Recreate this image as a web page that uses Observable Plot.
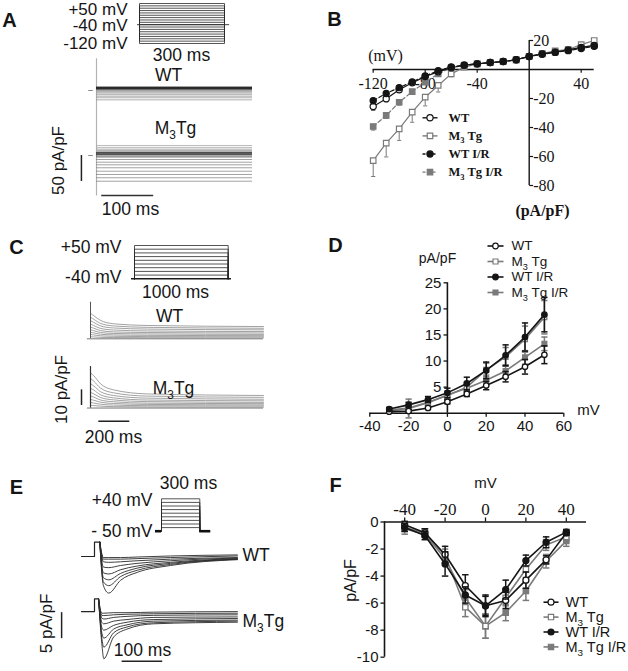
<!DOCTYPE html>
<html><head><meta charset="utf-8">
<script src="https://cdn.jsdelivr.net/npm/d3@7"></script>
<script src="https://cdn.jsdelivr.net/npm/@observablehq/plot@0.6"></script>
<style>
html,body{margin:0;padding:0;background:#fff}
#fig{position:relative;width:628px;height:671px;overflow:hidden;background:#fff}
#fig svg{position:absolute;left:0;top:0}
</style></head><body><div id="fig"></div>
<script>
// ================= DATA =================
// Panel A – step protocol (mV) and representative steady currents (pA/pF)
const protoA_levels = [50,40,30,20,10,0,-10,-20,-30,-40,-50,-60,-70,-80,-90,-100,-110,-120];
const protoA_hold = -40;
const protoA_dur = 300;
const traceA_WT = [6.5,6,5.5,5,4.5,4,3.5,3,2,1,0,-1.5,-3,-5,-8,-11,-14,-18];
const traceA_M3 = [19,15,12,9.6,7.5,5.8,4,2,-1,-3.3,-7.7,-12.9,-17.9,-23.6,-30.2,-36.5,-42.8,-49.4];

// Panel B – I/V (mV, pA/pF)
const ivB_mV = [-120,-110,-100,-90,-80,-70,-60,-50,-40,-30,-20,-10,0,10,20,30,40,50];
const ivB_WT   = [-25.5,-20.2,-14.0,-9.2,-4.8,-1.6,1.2,3.0,3.9,4.8,5.5,6.7,9.0,10.8,12.0,13.5,15.2,16.6];
const ivB_WT_err = [2.5,2,1.5,1.2,1,0.8,0.6,0.6,0.6,0.6,0.6,0.6,0.6,0.6,0.6,0.6,0.6,0.6];
const ivB_M3   = [-62.8,-50.8,-40.9,-29.4,-19.1,-11.0,-3.0,1.6,3.9,4.8,5.5,6.7,9.0,11.0,12.8,13.8,17.2,20.0];
const ivB_M3_err = [11,9.5,8,7,6,4.5,2,1,0.8,0.6,0.6,0.6,0.6,0.6,0.6,0.8,0.8,0.8];
const ivB_WTIR = [-21.5,-16.5,-12.5,-8.5,-4.5,-0.8,1.8,3.0,3.9,4.8,5.5,6.7,9.0,10.5,11.8,13.0,14.5,16.0];
const ivB_WTIR_err = [2,1.5,1.2,1,0.8,0.6,0.6,0.6,0.6,0.6,0.6,0.6,0.6,0.6,0.6,0.6,0.6,0.6];
const ivB_M3IR = [-39.3,-31.7,-22.6,-15.2,-8.8,-3.0,1.2,3.0,3.9,4.8,5.5,6.7,9.0,10.8,12.0,13.5,15.2,16.6];
const ivB_M3IR_err = [2.5,2,2,1.5,1.2,1,0.8,0.6,0.6,0.6,0.6,0.6,0.6,0.6,0.6,0.6,0.6,0.6];
const ivB_xticks = [-120,-80,-40,40];
const ivB_yticks = [20,-20,-40,-60,-80];

// Panel C – protocol and outward current traces (values at sample times)
const protoC_levels = [50,40,30,20,10,0,-10,-20,-30];
const protoC_hold = -40;
const protoC_dur = 1000;
const traceC_t = [4,20,65,148,366,1116];
const traceC_WT = [
  [16.0,14.8,11.7,9.6,8.5,7.8],[13.5,12.5,9.8,8.2,7.3,6.7],[11.3,10.5,8.2,6.9,6.2,5.7],
  [9.2,8.5,6.6,5.6,5.0,4.6],[7.3,6.8,5.2,4.4,4.0,3.7],[5.6,5.2,4.0,3.4,3.1,2.8],
  [4.1,3.8,2.9,2.5,2.2,2.0],[2.7,2.5,1.9,1.6,1.4,1.3],[1.3,1.2,0.9,0.8,0.7,0.6]];
const traceC_M3 = [
  [22.0,20.7,15.4,11.6,9.0,8.0],[18.5,17.2,12.7,9.7,7.6,6.8],[15.3,14.2,10.4,8.0,6.3,5.6],
  [12.4,11.5,8.4,6.5,5.1,4.6],[9.8,9.1,6.7,5.2,4.1,3.6],[7.5,7.0,5.1,4.0,3.1,2.8],
  [5.4,5.0,3.7,2.9,2.3,2.0],[3.5,3.2,2.4,1.9,1.5,1.3],[1.7,1.6,1.2,0.9,0.7,0.6]];
const traceC_spike = {WT: 23.3, M3: 26.4};

// Panel D – I/V
const ivD_mV = [-30,-20,-10,0,10,20,30,40,50];
const ivD_WT   = [0.3,0.4,1.0,2.2,3.7,5.3,7.0,8.9,11.2];
const ivD_WT_err = [0.2,0.3,0.3,0.4,0.5,0.8,1.0,1.4,1.7];
const ivD_M3   = [0.6,1.0,2.1,3.4,5.0,8.3,10.8,14.2,18.4];
const ivD_M3_err = [0.3,0.5,0.6,0.8,1.0,1.3,1.8,2.5,3.2];
const ivD_WTIR = [0.8,1.6,2.6,3.9,5.7,8.2,11.1,14.6,18.9];
const ivD_WTIR_err = [0.3,0.5,0.6,0.9,1.2,1.6,2.0,2.7,3.3];
const ivD_M3IR = [0.5,0.9,2.0,3.5,4.8,6.3,8.1,10.7,13.3];
const ivD_M3IR_err = [0.3,1.8,0.5,0.7,0.8,1.0,1.2,1.3,1.3];
const ivD_xticks = [-40,-20,0,20,40,60];
const ivD_yticks = [5,10,15,20,25];

// Panel E – protocol and inward current traces
const protoE_levels = [40,30,20,10,0,-10,-20,-30,-40];
const protoE_hold = -50;
const protoE_dur = 300;
const traceE_WT_t = [22,35,64,105,187,352];
const traceE_WT = [
  [-5.5,-6.9,-4.5,-3.0,-1.7,-0.6],[-4.8,-5.5,-3.8,-2.6,-1.5,-0.5],[-4.0,-4.4,-3.2,-2.2,-1.3,-0.5],
  [-3.1,-3.3,-2.5,-1.8,-1.1,-0.4],[-2.0,-2.1,-1.7,-1.3,-0.8,-0.3],[-1.0,-1.1,-1.0,-0.8,-0.5,-0.2],
  [-0.5,-0.5,-0.5,-0.4,-0.2,0.1],[-0.2,-0.2,-0.2,-0.1,0.1,0.3]];
const traceE_M3_t = [18,23,47,80,146,352];
const traceE_M3 = [
  [-6.0,-8.9,-4.8,-3.3,-2.3,-2.0],[-5.0,-6.7,-4.0,-2.9,-2.1,-1.8],[-4.0,-5.0,-3.3,-2.5,-1.8,-1.6],
  [-3.0,-3.5,-2.6,-2.0,-1.5,-1.3],[-2.0,-2.3,-1.8,-1.5,-1.1,-1.0],[-1.2,-1.4,-1.1,-0.9,-0.7,-0.6],
  [-0.7,-0.75,-0.6,-0.5,-0.4,-0.3],[-0.3,-0.3,-0.2,-0.2,-0.1,0.0]];
const traceE_spike = {WT: 2.7, M3: 2.4};

// Panel F – I/V
const ivF_mV = [-40,-30,-20,-10,0,10,20,30,40];
const ivF_WT   = [-0.2,-0.8,-2.4,-4.7,-6.2,-5.8,-4.3,-2.8,-0.8];
const ivF_WT_err = [0.25,0.3,0.6,0.8,0.7,0.6,0.6,0.3,0.2];
const ivF_M3   = [-0.4,-0.8,-2.5,-6.3,-7.7,-5.6,-3.5,-1.7,-1.1];
const ivF_M3_err = [0.3,0.3,0.5,0.7,0.9,0.6,0.6,0.4,0.3];
const ivF_WTIR = [-0.4,-1.0,-3.1,-5.4,-6.2,-5.0,-2.85,-1.5,-0.75];
const ivF_WTIR_err = [0.3,0.3,0.9,0.6,0.8,0.7,0.4,0.4,0.2];
const ivF_M3IR = [-0.5,-0.9,-2.7,-5.6,-7.7,-6.7,-5.1,-2.9,-1.4];
const ivF_M3IR_err = [0.4,0.4,0.5,0.6,0.9,0.6,0.7,0.5,0.4];
const ivF_xticks = [-40,-20,0,20,40];
const ivF_yticks = [0,-2,-4,-6,-8,-10];

const seriesNames = ["WT","M₃ Tg","WT I/R","M₃ Tg I/R"];

// ================= STYLE / LAYOUT =================
const fig = document.getElementById("fig");
const SANS = "'Liberation Sans', Arial, Helvetica, sans-serif";
const SERIF = "'Liberation Serif', 'Times New Roman', serif";
const BLACK = "#151515", GRAY = "#7a7a7a";
const STY = [
  {name: seriesNames[0], symbol: "circle", color: BLACK, open: true,  dash: null},
  {name: seriesNames[1], symbol: "square", color: GRAY,  open: true,  dash: null},
  {name: seriesNames[2], symbol: "circle", color: BLACK, open: false, dash: "4,2.5"},
  {name: seriesNames[3], symbol: "square", color: GRAY,  open: false, dash: "4,2.5"}
];

function layer(xs, ys, marks, font = SANS) {
  const svg = Plot.plot({
    width: 628, height: 671, margin: 0,
    x: {...xs, axis: null}, y: {...ys, axis: null},
    style: {background: "transparent", fontFamily: font, overflow: "visible", color: BLACK},
    marks
  });
  fig.appendChild(svg);
  return svg;
}

function protoData(levels, hold, dur) {
  return levels.flatMap(L => [{t: 0, v: hold, L}, {t: 0, v: L, L}, {t: dur, v: L, L}, {t: dur, v: hold, L}]);
}

function ivMarks(xv, sets, o) {
  const marks = [];
  for (const s of sets) {
    const data = xv.map((x, i) => ({x, y: s.y[i], e: s.e[i]}));
    const lo = d => o.oneSided ? (d.y < 0 ? d.y - d.e : d.y + d.e) : d.y - d.e;
    const hi = d => o.oneSided ? d.y : d.y + d.e;
    const dash = o.dashed && s.st.dash ? {strokeDasharray: s.st.dash} : {};
    marks.push(Plot.line(data, {x: "x", y: "y", stroke: s.st.color, strokeWidth: o.lw, ...dash}));
    marks.push(Plot.ruleX(data, {x: "x", y1: lo, y2: hi, stroke: s.st.color, strokeWidth: o.ew}));
    marks.push(Plot.link(data, {x1: d => d.x - o.cap, x2: d => d.x + o.cap, y1: lo, y2: lo, stroke: s.st.color, strokeWidth: o.ew}));
    if (!o.oneSided) marks.push(Plot.link(data, {x1: d => d.x - o.cap, x2: d => d.x + o.cap, y1: hi, y2: hi, stroke: s.st.color, strokeWidth: o.ew}));
    marks.push(Plot.dot(data, {x: "x", y: "y", symbol: s.st.symbol, r: o.r, fill: s.st.open ? "white" : s.st.color, stroke: s.st.color, strokeWidth: o.sw}));
  }
  return marks;
}

function legendMarks(c, dashed) {
  const marks = [];
  STY.forEach((st, i) => {
    const y = c.y0 + i * c.dy;
    const dash = dashed && st.dash ? {strokeDasharray: "3,2"} : {};
    marks.push(Plot.link([0], {x1: c.x1, x2: c.x2, y1: y, y2: y, stroke: st.color, strokeWidth: c.lw, ...dash}));
    marks.push(Plot.dot([0], {x: (c.x1 + c.x2) / 2, y, symbol: st.symbol, r: c.r, fill: st.open ? "white" : st.color, stroke: st.color, strokeWidth: 1.2}));
    marks.push(Plot.text([st.name], {x: c.tx, y, text: d => d, textAnchor: "start", fontSize: c.fs, fontFamily: c.ff, fontWeight: c.fw, fill: BLACK}));
  });
  return marks;
}

// ---------- Panel A ----------
layer({domain: [0, protoA_dur], range: [139, 224]}, {domain: [-120, 50], range: [43, 3]}, [
  Plot.line(protoData(protoA_levels, protoA_hold, protoA_dur), {x: "t", y: "v", z: "L", stroke: "#2a2a2a", strokeWidth: 0.8}),
  Plot.ruleY([protoA_hold], {x1: -7, x2: 318, stroke: "#2a2a2a", strokeWidth: 0.9})
]);
const OFF_A = 125;
layer({domain: [0, 300], range: [96, 252]}, {domain: [0, 50], range: [155, 129]}, [
  Plot.ruleX([0], {y1: -78, y2: 186, stroke: "#b3b3b3", strokeWidth: 1.2}),
  Plot.ruleY(traceA_WT.filter((v, i) => i >= 8), {y: v => v + OFF_A, x1: 0, x2: 300, stroke: "#9a9a9a", strokeWidth: 0.8}),
  Plot.ruleY(traceA_WT.filter((v, i) => i < 8), {y: v => v + OFF_A, x1: 0, x2: 300, stroke: "#2a2a2a", strokeWidth: 0.9}),
  Plot.ruleY(traceA_M3.filter((v, i) => i < 5), {y: v => v, x1: 0, x2: 300, stroke: "#ababab", strokeWidth: 0.9}),
  Plot.ruleY(traceA_M3.filter((v, i) => i >= 5 && i < 9), {y: v => v, x1: 0, x2: 300, stroke: "#3a3a3a", strokeWidth: 0.9}),
  Plot.ruleY(traceA_M3.filter((v, i) => i >= 9), {y: v => v, x1: 0, x2: 300, stroke: "#7a7a7a", strokeWidth: 0.7}),
  Plot.ruleY([0, OFF_A], {x1: -15, x2: -6, stroke: "#8a8a8a", strokeWidth: 1}),
  Plot.ruleX([-29], {y1: -50, y2: 0, stroke: "#222", strokeWidth: 1.5}),
  Plot.ruleY([-77], {x1: 10, x2: 110, stroke: "#333", strokeWidth: 1.5})
]);

// ---------- Panel B ----------
const ivB = [
  {st: STY[1], y: ivB_M3, e: ivB_M3_err},
  {st: STY[3], y: ivB_M3IR, e: ivB_M3IR_err},
  {st: STY[0], y: ivB_WT, e: ivB_WT_err},
  {st: STY[2], y: ivB_WTIR, e: ivB_WTIR_err}
];
layer({domain: [-120, 50], range: [372.7, 593.7]}, {domain: [-80, 20], range: [185, 40]}, [
  Plot.ruleY([0], {x1: -120, x2: 50, stroke: BLACK, strokeWidth: 1.4}),
  Plot.ruleX([0], {y1: -80, y2: 20, stroke: BLACK, strokeWidth: 1.4}),
  Plot.ruleX(ivB_xticks, {x: d => d, y1: 0, y2: -2.5, stroke: BLACK, strokeWidth: 1.2}),
  Plot.text(ivB_xticks, {x: d => d, y: 0, dy: 14, text: d => String(d), fontSize: 16}),
  Plot.link(ivB_yticks, {x1: 0, x2: 3, y1: d => d, y2: d => d, stroke: BLACK, strokeWidth: 1.2}),
  Plot.text(ivB_yticks, {x: 0, y: d => d, dx: 4, text: d => String(d), textAnchor: "start", fontSize: 16}),
  ...ivMarks(ivB_mV, ivB, {lw: 1.2, ew: 1, cap: 1.6, r: 3.1, sw: 1.2, oneSided: true, dashed: true})
], SERIF);

// ---------- Panel C ----------
layer({domain: [0, protoC_dur], range: [134, 227.7]}, {domain: [-40, 50], range: [278.3, 245]}, [
  Plot.line(protoData(protoC_levels, protoC_hold, protoC_dur), {x: "t", y: "v", z: "L", stroke: "#2a2a2a", strokeWidth: 0.8}),
  Plot.ruleY([protoC_hold], {x1: -32, x2: 1035, stroke: "#1a1a1a", strokeWidth: 1.4})
]);
const OFF_C = -44.1;
const cData = [];
traceC_WT.forEach((row, i) => row.forEach((v, j) => cData.push({g: "WT" + i, t: traceC_t[j], I: v})));
traceC_M3.forEach((row, i) => row.forEach((v, j) => cData.push({g: "M3" + i, t: traceC_t[j], I: v + OFF_C})));
layer({domain: [0, 1000], range: [90, 245]}, {domain: [0, 10], range: [338.3, 322.6]}, [
  Plot.line(cData, {x: "t", y: "I", z: "g", curve: "monotone-x", stroke: "#8a8a8a", strokeWidth: 0.8}),
  Plot.ruleY([0, OFF_C], {x1: -20, x2: 1116, stroke: "#777", strokeWidth: 1}),
  Plot.ruleX([0], {y1: 0, y2: traceC_spike.WT, stroke: "#555", strokeWidth: 1}),
  Plot.ruleX([0], {y1: OFF_C, y2: OFF_C + traceC_spike.M3, stroke: "#333", strokeWidth: 1.2}),
  Plot.ruleX([-58], {y1: OFF_C + 1.6, y2: OFF_C + 11.6, stroke: "#222", strokeWidth: 1.5}),
  Plot.ruleY([-52.5], {x1: 53.5, x2: 253.5, stroke: "#222", strokeWidth: 1.5})
]);

// ---------- Panel D ----------
const ivD = [
  {st: STY[3], y: ivD_M3IR, e: ivD_M3IR_err},
  {st: STY[1], y: ivD_M3, e: ivD_M3_err},
  {st: STY[0], y: ivD_WT, e: ivD_WT_err},
  {st: STY[2], y: ivD_WTIR, e: ivD_WTIR_err}
];
layer({domain: [-40, 60], range: [369.3, 563.3]}, {domain: [0, 25], range: [412.7, 282.3]}, [
  Plot.ruleY([0], {x1: -40, x2: 60, stroke: BLACK, strokeWidth: 1.6}),
  Plot.ruleX([0], {y1: 0, y2: 25, stroke: BLACK, strokeWidth: 1.6}),
  Plot.ruleX(ivD_xticks, {x: d => d, y1: 0, y2: -0.8, stroke: BLACK, strokeWidth: 1.3}),
  Plot.text(ivD_xticks, {x: d => d, y: 0, dy: 13, text: d => String(d), fontSize: 15}),
  Plot.link(ivD_yticks, {x1: 0, x2: -2, y1: d => d, y2: d => d, stroke: BLACK, strokeWidth: 1.3}),
  Plot.text(ivD_yticks, {x: 0, y: d => d, dx: -6, text: d => String(d), textAnchor: "end", fontSize: 15}),
  ...ivMarks(ivD_mV, ivD, {lw: 1.6, ew: 1.5, cap: 1.6, r: 2.7, sw: 1.3, oneSided: false, dashed: false})
]);

// ---------- Panel E ----------
layer({domain: [0, protoE_dur], range: [161, 199.3]}, {domain: [-50, 40], range: [530.7, 498.3]}, [
  Plot.line(protoData(protoE_levels, protoE_hold, protoE_dur), {x: "t", y: "v", z: "L", stroke: "#2a2a2a", strokeWidth: 0.8}),
  Plot.ruleY([protoE_hold], {x1: -47, x2: 0, stroke: "#111", strokeWidth: 2.6}),
  Plot.ruleY([protoE_hold], {x1: 300, x2: 386, stroke: "#111", strokeWidth: 2.6})
]);
const OFF_E = -10.4;
const eData = [], ePre = [];
function addE(g, ts, rows, sp, t0, off) {
  ePre.push({g, t: -32, I: off}, {g, t: 0, I: off}, {g, t: 0, I: sp + off}, {g, t: t0, I: sp + off});
  rows.forEach((row, i) => {
    eData.push({g: g + i, t: t0, I: sp + off});
    row.forEach((v, j) => eData.push({g: g + i, t: ts[j], I: v + off}));
  });
}
addE("WT", traceE_WT_t, traceE_WT, traceE_spike.WT, 13, 0);
addE("M3", traceE_M3_t, traceE_M3, traceE_spike.M3, 10, OFF_E);
layer({domain: [0, 100], range: [94, 134.6]}, {domain: [0, -10], range: [556, 609]}, [
  Plot.line(ePre, {x: "t", y: "I", z: "g", stroke: "#222", strokeWidth: 1.2}),
  Plot.line(eData, {x: "t", y: "I", z: "g", curve: "monotone-x", stroke: "#2a2a2a", strokeWidth: 0.9}),
  Plot.ruleX([-81], {y1: -10.6, y2: -15.5, stroke: "#222", strokeWidth: 1.5}),
  Plot.ruleY([-19.75], {x1: 68, x2: 168, stroke: "#222", strokeWidth: 1.5})
]);

// ---------- Panel F ----------
const ivF = [
  {st: STY[3], y: ivF_M3IR, e: ivF_M3IR_err},
  {st: STY[1], y: ivF_M3, e: ivF_M3_err},
  {st: STY[0], y: ivF_WT, e: ivF_WT_err},
  {st: STY[2], y: ivF_WTIR, e: ivF_WTIR_err}
];
layer({domain: [-50, 50], range: [384, 586]}, {domain: [-10, 0], range: [656.7, 521.5]}, [
  Plot.ruleY([0], {x1: -50, x2: 50, stroke: BLACK, strokeWidth: 1.6}),
  Plot.ruleX([-50], {y1: -10, y2: 0, stroke: BLACK, strokeWidth: 1.6}),
  Plot.ruleX(ivF_xticks, {x: d => d, y1: 0, y2: 0.3, stroke: BLACK, strokeWidth: 1.3}),
  Plot.text(ivF_xticks, {x: d => d, y: 0, dy: -12, text: d => String(d), fontSize: 17, fontFamily: SERIF}),
  Plot.link(ivF_yticks, {x1: -50, x2: -52, y1: d => d, y2: d => d, stroke: BLACK, strokeWidth: 1.3}),
  Plot.text(ivF_yticks, {x: -50, y: d => d, dx: -6, text: d => String(d), textAnchor: "end", fontSize: 15}),
  ...ivMarks(ivF_mV, ivF, {lw: 1.6, ew: 1.5, cap: 1.6, r: 3.0, sw: 1.3, oneSided: false, dashed: false})
]);

// ---------- Annotations (page coordinates) ----------
const T = (x, y, text, o = {}) => Plot.text([text], {x, y, text: d => d, fontSize: 17.5, fill: BLACK, ...o});
const bold = {fontWeight: "bold", fontSize: 20};
const ID = {type: "identity"};
layer(ID, ID, [
  T(9, 20, "A", bold), T(334, 19, "B", bold), T(16, 247, "C", bold),
  T(335, 245, "D", bold), T(16, 487, "E", bold), T(335, 485, "F", bold),
  // A
  T(127, 9, "+50 mV", {textAnchor: "end", fontSize: 17}), T(127, 25.5, "-40 mV", {textAnchor: "end", fontSize: 17}),
  T(127, 43, "-120 mV", {textAnchor: "end", fontSize: 17}), T(181, 55, "300 ms"),
  T(168, 75, "WT"), T(175, 128, "M₃Tg"),
  T(58, 160, "50 pA/pF", {rotate: -90, fontSize: 17}), T(130, 209, "100 ms"),
  // B
  T(385, 55, "(mV)", {fontFamily: SERIF, fontSize: 16}),
  T(542, 210, "(pA/pF)", {fontFamily: SERIF, fontSize: 16, fontWeight: "bold"}),
  ...legendMarks({x1: 422, x2: 437, y0: 117.3, dy: 18.1, tx: 448, lw: 1.4, r: 3.1, fs: 12.5, ff: SERIF, fw: "bold"}, true),
  // C
  T(121, 247, "+50 mV", {textAnchor: "end"}), T(121, 277, "-40 mV", {textAnchor: "end"}),
  T(175, 292, "1000 ms"), T(169, 316, "WT"), T(173, 388, "M₃Tg"),
  T(61, 389, "10 pA/pF", {rotate: -90, fontSize: 17}), T(113, 437, "200 ms"),
  // D
  T(437, 258, "pA/pF", {fontSize: 14}), T(588, 410, "mV", {fontSize: 15}),
  ...legendMarks({x1: 487, x2: 503, y0: 245.5, dy: 15.5, tx: 511, lw: 1.6, r: 2.8, fs: 13.5, ff: SANS, fw: "normal"}, false),
  // E
  T(188, 483, "300 ms"), T(152, 500, "+40 mV", {textAnchor: "end"}),
  T(152, 531, "- 50 mV", {textAnchor: "end"}),
  T(242, 555, "WT", {textAnchor: "start"}), T(242, 621, "M₃Tg", {textAnchor: "start"}),
  T(46, 623, "5 pA/pF", {rotate: -90, fontSize: 17}), T(142, 650, "100 ms"),
  // F
  T(485, 483, "mV", {fontSize: 15}),
  T(350, 580, "pA/pF", {rotate: -90, fontSize: 16}),
  ...legendMarks({x1: 543, x2: 558, y0: 601.7, dy: 14.9, tx: 565, lw: 1.6, r: 3.0, fs: 14.5, ff: SANS, fw: "normal"}, false)
]);

// ---------- subscript "3" rendering ----------
(function subscripts(root) {
  const ns = "http://www.w3.org/2000/svg";
  const walker = document.createTreeWalker(root, NodeFilter.SHOW_TEXT);
  const nodes = [];
  while (walker.nextNode()) if (walker.currentNode.nodeValue.includes("₃")) nodes.push(walker.currentNode);
  for (const n of nodes) {
    const [a, b] = n.nodeValue.split("₃");
    const parent = n.parentNode;
    const fs = parseFloat(getComputedStyle(parent).fontSize) || 16;
    const s1 = document.createElementNS(ns, "tspan");
    s1.setAttribute("dy", (0.28 * fs).toFixed(1));
    s1.setAttribute("font-size", (0.68 * fs).toFixed(1));
    s1.textContent = "3";
    const s2 = document.createElementNS(ns, "tspan");
    s2.setAttribute("dy", (-0.28 * fs).toFixed(1));
    s2.textContent = b;
    parent.insertBefore(document.createTextNode(a), n);
    parent.insertBefore(s1, n);
    parent.insertBefore(s2, n);
    parent.removeChild(n);
  }
})(fig);
</script>
</body></html>
